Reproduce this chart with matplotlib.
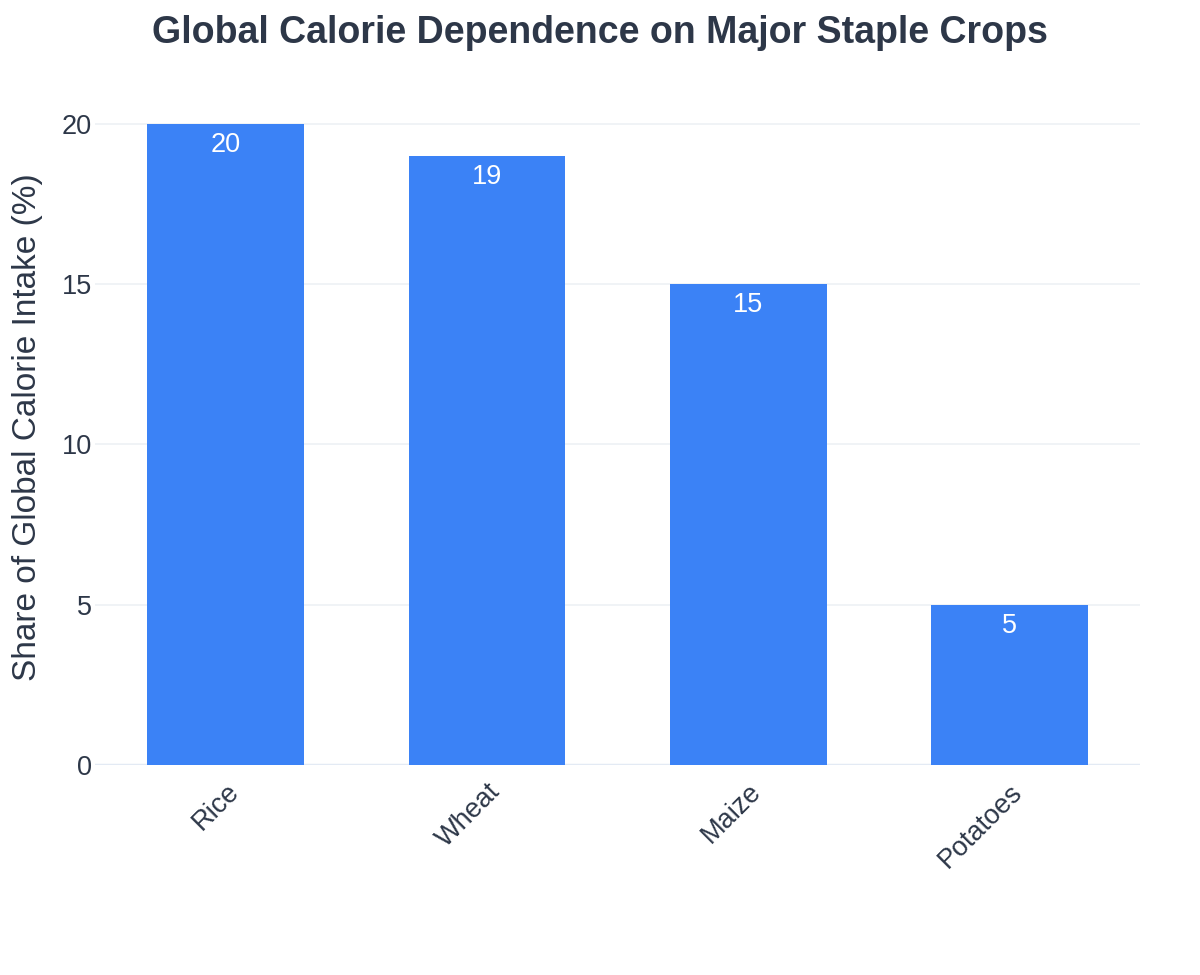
import matplotlib
matplotlib.use("Agg")
import matplotlib.pyplot as plt

crops = ["Rice", "Wheat", "Maize", "Potatoes"]
shares = [20, 19, 15, 5]
yticks = [0, 5, 10, 15, 20]

plt.rcParams['font.family'] = ['Liberation Sans', 'DejaVu Sans']
TEXT = "#2d3748"
BAR = "#3b82f6"

fig = plt.figure(figsize=(12, 9.75), dpi=100)
ax = fig.add_axes([95/1200, 1-765/975, (1140-95)/1200, (765-90)/975])

x = list(range(len(crops)))
bars = ax.bar(x, shares, width=0.6, color=BAR, zorder=3)
for xi, v in zip(x, shares):
    ax.annotate(str(v), (xi, v), xytext=(0, -6), textcoords="offset points",
                ha="center", va="top", color="white", fontsize=19.5, zorder=4)

ax.set_xlim(-0.5, len(crops) - 0.5)
ax.set_ylim(0, 21.05)
ax.set_yticks(yticks)
ax.set_yticklabels([str(t) for t in yticks], fontsize=19.5, color=TEXT)
ax.set_xticks(x)
ax.set_xticklabels(crops, fontsize=19.5, color=TEXT, rotation=45, ha="right",
                   rotation_mode="anchor")
ax.tick_params(axis="both", length=0)
ax.tick_params(axis="y", pad=2)
ax.tick_params(axis="x", pad=10)
for s in ax.spines.values():
    s.set_visible(False)
ax.grid(axis="y", color="#eef1f5", linewidth=1.2, zorder=0)
ax.axhline(0, color="#e3eaf4", linewidth=2.5, zorder=2)
ax.set_ylabel("Share of Global Calorie Intake (%)", fontsize=24, color=TEXT, labelpad=14)

fig.suptitle("Global Calorie Dependence on Major Staple Crops", x=0.5, y=1-33/975,
             va="center", fontsize=27, fontweight="bold", color=TEXT)

fig.savefig("out.png", dpi=100, facecolor="white")
